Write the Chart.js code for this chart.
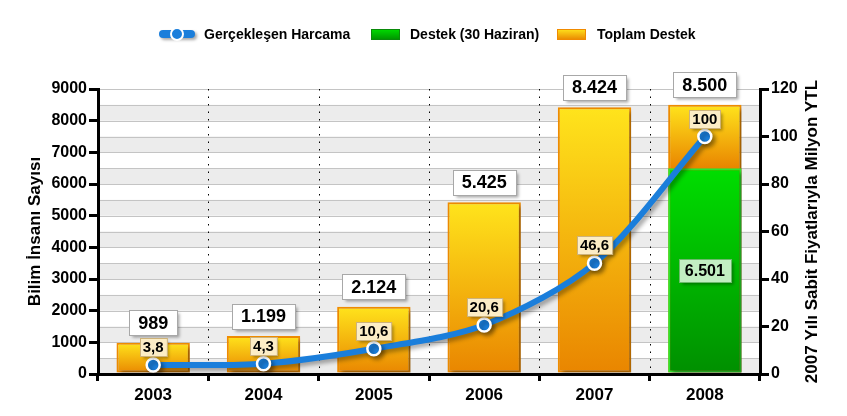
<!DOCTYPE html>
<html>
<head>
<meta charset="utf-8">
<script src="https://cdn.jsdelivr.net/npm/chart.js@4.4.0/dist/chart.umd.min.js"></script>
<style>
  html, body { margin: 0; padding: 0; background: #fff; }
  #wrap { width: 847px; height: 416px; position: relative; }
</style>
</head>
<body>
<div id="wrap"><canvas id="chart"></canvas></div>
<script>
// Chart data
const years = ['2003', '2004', '2005', '2006', '2007', '2008'];
const harcama = [3.8, 4.3, 10.6, 20.6, 46.6, 100];          // Gerçekleşen Harcama (right axis)
const destek30Haziran = [null, null, null, null, null, 6501]; // Destek (30 Haziran)
const toplamDestek = [989, 1199, 2124, 5425, 8424, 8500];     // Toplam Destek
const leftTicks = [0, 1000, 2000, 3000, 4000, 5000, 6000, 7000, 8000, 9000];
const rightTicks = [0, 20, 40, 60, 80, 100, 120];

const FONT = '"Liberation Sans", Arial, sans-serif';
const BLUE = '#1a7edb';

// Turkish style numbers: 8.500 and 3,8
function fmt(v) {
    const parts = String(v).split('.');
    const int = parts[0].replace(/\B(?=(\d{3})+(?!\d))/g, '.');
    return parts[1] ? int + ',' + parts[1] : int;
}

function orangeFill(context) {
    const chart = context.chart;
    if (!chart.chartArea) return '#f5b800';
    const y = chart.scales.y;
    const i = context.dataIndex;
    const top = y.getPixelForValue(toplamDestek[i]);
    const bottom = y.getPixelForValue(destek30Haziran[i] || 0);
    const g = chart.ctx.createLinearGradient(0, top, 0, bottom);
    g.addColorStop(0, '#ffe41c');
    g.addColorStop(1, '#e98500');
    return g;
}

function greenFill(context) {
    const chart = context.chart;
    if (!chart.chartArea) return '#00c000';
    const y = chart.scales.y;
    const i = context.dataIndex;
    const top = y.getPixelForValue(destek30Haziran[i] || 0);
    const bottom = y.getPixelForValue(0);
    const g = chart.ctx.createLinearGradient(0, top, 0, bottom);
    g.addColorStop(0, '#00de00');
    g.addColorStop(1, '#008f00');
    return g;
}

// bands, 500-step grid lines and dotted category separators
const backdrop = {
    id: 'backdrop',
    beforeDraw(chart) {
        const { ctx, chartArea: a, scales } = chart;
        const y = scales.y;
        ctx.save();
        for (let v = 0; v < 9000; v += 1000) {
            const top = y.getPixelForValue(v + 500);
            const bot = y.getPixelForValue(v);
            ctx.fillStyle = '#ececec';
            ctx.fillRect(a.left, top, a.right - a.left, bot - top);
        }
        ctx.strokeStyle = '#c4c4c4';
        ctx.lineWidth = 1;
        for (let v = 500; v <= 9000; v += 500) {
            const py = Math.round(y.getPixelForValue(v)) + 0.5;
            ctx.beginPath();
            ctx.moveTo(a.left, py);
            ctx.lineTo(a.right, py);
            ctx.stroke();
        }
        const step = (a.right - a.left) / years.length;
        ctx.strokeStyle = '#000';
        ctx.setLineDash([1.5, 6]);
        for (let i = 1; i < years.length; i++) {
            const px = Math.round(a.left + step * i) + 0.5;
            ctx.beginPath();
            ctx.moveTo(px, a.top);
            ctx.lineTo(px, a.bottom);
            ctx.stroke();
        }
        ctx.restore();
    }
};

const shadows = {
    id: 'shadows',
    beforeDatasetDraw(chart, args) {
        const ctx = chart.ctx;
        ctx.save();
        ctx.shadowColor = 'rgba(0,0,0,0.35)';
        ctx.shadowBlur = 4;
        ctx.shadowOffsetX = 3;
        ctx.shadowOffsetY = 3;
    },
    afterDatasetDraw(chart) {
        chart.ctx.restore();
    }
};

function labelBox(ctx, text, cx, cy, font, padX, h, fill, stroke) {
    ctx.font = font;
    const w = ctx.measureText(text).width + padX * 2;
    const x = Math.round(cx - w / 2) + 0.5;
    const y = Math.round(cy - h / 2) + 0.5;
    ctx.save();
    ctx.shadowColor = 'rgba(0,0,0,0.35)';
    ctx.shadowBlur = 3;
    ctx.shadowOffsetX = 2;
    ctx.shadowOffsetY = 2;
    ctx.fillStyle = fill;
    ctx.fillRect(x, y, w, h);
    ctx.restore();
    ctx.strokeStyle = stroke;
    ctx.lineWidth = 1;
    ctx.strokeRect(x, y, w, h);
    ctx.fillStyle = '#000';
    ctx.textAlign = 'center';
    ctx.textBaseline = 'middle';
    ctx.fillText(text, cx, cy + 1);
}

const valueLabels = {
    id: 'valueLabels',
    afterDatasetsDraw(chart) {
        const ctx = chart.ctx;
        ctx.save();
        const orange = chart.getDatasetMeta(2).data;
        orange.forEach((bar, i) => {
            labelBox(ctx, fmt(toplamDestek[i]), bar.x, bar.y - 8 - 12,
                'bold 18px ' + FONT, 9, 25, '#ffffff', '#a8a8a8');
        });
        const green = chart.getDatasetMeta(1).data;
        green.forEach((bar, i) => {
            if (destek30Haziran[i] == null) return;
            labelBox(ctx, fmt(destek30Haziran[i]), bar.x, (bar.y + bar.base) / 2,
                'bold 16px ' + FONT, 6, 23, '#c2eec2', '#6cba6c');
        });
        const pts = chart.getDatasetMeta(0).data;
        pts.forEach((p, i) => {
            labelBox(ctx, fmt(harcama[i]), p.x, p.y - 9 - 9,
                'bold 15px ' + FONT, 3, 18, '#fcedc6', '#cdb27a');
        });
        ctx.restore();
    }
};

const decorations = {
    id: 'decorations',
    afterDraw(chart) {
        const { ctx, chartArea: a } = chart;
        ctx.save();
        // axis titles
        ctx.fillStyle = '#000';
        ctx.font = 'bold 17px ' + FONT;
        ctx.textAlign = 'center';
        ctx.textBaseline = 'middle';
        const midY = (a.top + a.bottom) / 2;
        ctx.save();
        ctx.translate(35, midY);
        ctx.rotate(-Math.PI / 2);
        ctx.fillText('Bilim İnsanı Sayısı', 0, 0);
        ctx.restore();
        ctx.save();
        ctx.translate(812, midY);
        ctx.rotate(-Math.PI / 2);
        ctx.fillText('2007 Yılı Sabit Fiyatlarıyla Milyon YTL', 0, 0);
        ctx.restore();

        // legend
        const ly = 34;
        ctx.save();
        ctx.shadowColor = 'rgba(0,0,0,0.35)';
        ctx.shadowBlur = 3;
        ctx.shadowOffsetX = 2;
        ctx.shadowOffsetY = 2;
        ctx.strokeStyle = BLUE;
        ctx.lineWidth = 8;
        ctx.lineCap = 'round';
        ctx.beginPath();
        ctx.moveTo(163, ly);
        ctx.lineTo(191, ly);
        ctx.stroke();
        ctx.restore();
        ctx.beginPath();
        ctx.arc(177, ly, 6, 0, Math.PI * 2);
        ctx.fillStyle = BLUE;
        ctx.fill();
        ctx.strokeStyle = '#fff';
        ctx.lineWidth = 2;
        ctx.stroke();

        ctx.font = 'bold 14px ' + FONT;
        ctx.textAlign = 'left';
        ctx.fillStyle = '#000';
        ctx.fillText('Gerçekleşen Harcama', 204, ly + 1);

        let g = ctx.createLinearGradient(0, 29, 0, 40);
        g.addColorStop(0, '#00de00');
        g.addColorStop(1, '#009000');
        ctx.fillStyle = g;
        ctx.fillRect(371, 29, 29, 11);
        ctx.strokeStyle = '#0a8a0a';
        ctx.lineWidth = 1;
        ctx.strokeRect(371.5, 29.5, 28, 10);
        ctx.fillStyle = '#000';
        ctx.fillText('Destek (30 Haziran)', 410, ly + 1);

        g = ctx.createLinearGradient(0, 29, 0, 40);
        g.addColorStop(0, '#ffe41c');
        g.addColorStop(1, '#e98500');
        ctx.fillStyle = g;
        ctx.fillRect(557, 29, 29, 11);
        ctx.strokeStyle = '#f08a00';
        ctx.strokeRect(557.5, 29.5, 28, 10);
        ctx.fillStyle = '#000';
        ctx.fillText('Toplam Destek', 597, ly + 1);
        ctx.restore();
    }
};

const axisTicks = {
    color: '#000',
    font: { family: FONT, size: 16, weight: 'bold' },
    padding: 2,
    callback: v => String(v)
};

new Chart(document.getElementById('chart'), {
    data: {
        labels: years,
        datasets: [{
            type: 'line',
            label: 'Gerçekleşen Harcama',
            data: harcama,
            yAxisID: 'y1',
            order: 0,
            borderColor: BLUE,
            borderWidth: 6,
            tension: 0.3,
            pointRadius: 6.5,
            pointBackgroundColor: BLUE,
            pointBorderColor: '#fff',
            pointBorderWidth: 2.5
        }, {
            type: 'bar',
            label: 'Destek (30 Haziran)',
            data: destek30Haziran,
            yAxisID: 'y',
            order: 1,
            grouped: false,
            backgroundColor: greenFill,
            borderColor: '#2ee82e',
            borderWidth: 2,
            borderSkipped: false,
            categoryPercentage: 1,
            barPercentage: 0.665
        }, {
            type: 'bar',
            label: 'Toplam Destek',
            data: toplamDestek,
            yAxisID: 'y',
            order: 2,
            grouped: false,
            backgroundColor: orangeFill,
            borderColor: '#f08c00',
            borderWidth: 2,
            borderSkipped: false,
            categoryPercentage: 1,
            barPercentage: 0.665
        }]
    },
    options: {
        responsive: true,
        maintainAspectRatio: false,
        animation: false,
        layout: { padding: { top: 89, left: 0, right: 0, bottom: 0 } },
        plugins: { legend: { display: false }, tooltip: { enabled: false } },
        scales: {
            x: {
                offset: true,
                grid: { offset: true, drawOnChartArea: false, color: '#000', lineWidth: 3, tickLength: 7 },
                border: { color: '#000', width: 3 },
                ticks: { color: '#000', font: { family: FONT, size: 17, weight: 'bold' }, padding: 4 },
                afterFit: s => { s.height = 42; }
            },
            y: {
                position: 'left',
                min: 0,
                max: 9000,
                afterBuildTicks: s => { s.ticks = leftTicks.map(v => ({ value: v })); },
                ticks: axisTicks,
                grid: { drawOnChartArea: false, color: '#000', lineWidth: 3, tickLength: 9 },
                border: { color: '#000', width: 3 },
                afterFit: s => { s.width = 98; }
            },
            y1: {
                position: 'right',
                min: 0,
                max: 120,
                afterBuildTicks: s => { s.ticks = rightTicks.map(v => ({ value: v })); },
                ticks: axisTicks,
                grid: { drawOnChartArea: false, color: '#000', lineWidth: 3, tickLength: 9 },
                border: { color: '#000', width: 3 },
                afterFit: s => { s.width = 87; }
            }
        }
    },
    plugins: [backdrop, shadows, valueLabels, decorations]
});
</script>
</body>
</html>
